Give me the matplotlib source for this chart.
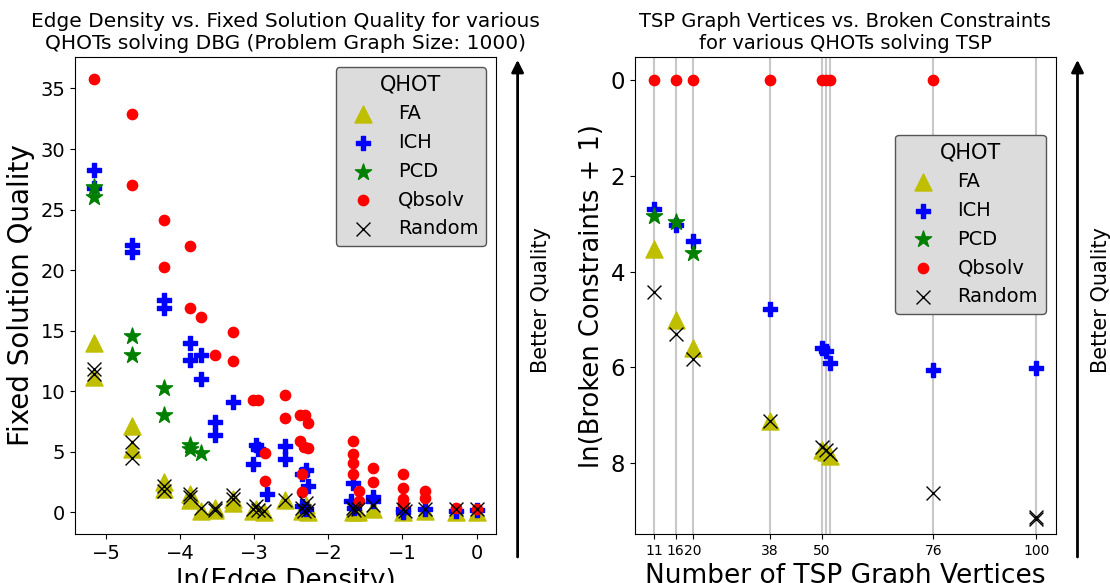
import matplotlib
matplotlib.use("agg")
import matplotlib.pyplot as plt

# ---- left plot: ln(edge density) vs fixed solution quality ----
fa_x = [-5.16, -5.16, -4.65, -4.65, -4.22, -4.22, -3.87, -3.87, -3.72, -3.53, -3.53, -3.28, -3.28,
        -3.02, -2.97, -2.87, -2.59, -2.35, -2.30, -2.27, -1.67, -1.60, -1.40, -0.99, -0.70, -0.28, 0.0]
fa_y = [14.0, 11.2, 7.1, 5.2, 2.5, 1.9, 1.5, 1.0, 0.1, 0.2, 0.4, 1.1, 0.8,
        0.1, 0.3, 0.0, 1.0, 0.1, 0.6, 0.0, 0.0, 0.0, 0.3, 0.0, 0.1, 0.0, 0.0]

ich_x = [-5.16, -5.16, -4.65, -4.65, -4.22, -4.22, -3.87, -3.87, -3.72, -3.72, -3.53, -3.53, -3.28,
         -3.02, -2.97, -2.95, -2.83, -2.59, -2.59, -2.35, -2.30, -2.27, -2.35, -2.30, -1.67, -1.70,
         -1.65, -1.40, -1.40, -0.99, -0.99, -0.70, -0.28, 0.0]
ich_y = [28.3, 26.8, 22.1, 21.5, 17.5, 16.9, 14.0, 12.6, 13.0, 11.0, 7.5, 6.4, 9.1,
         4.0, 5.6, 5.2, 1.5, 5.5, 4.4, 3.2, 3.5, 2.2, 0.5, 0.3, 2.4, 0.9,
         0.4, 1.3, 0.9, 0.3, 0.0, 0.3, 0.1, 0.2]

pcd_x = [-5.16, -5.16, -4.65, -4.65, -4.22, -4.22, -3.87, -3.87, -3.72]
pcd_y = [26.9, 26.0, 14.6, 13.0, 10.3, 8.0, 5.6, 5.2, 4.9]

qb_x = [-5.16, -4.65, -4.65, -4.22, -4.22, -3.87, -3.87, -3.72, -3.53, -3.28, -3.28, -3.02, -2.95,
        -2.85, -2.85, -2.59, -2.59, -2.38, -2.32, -2.28, -2.38, -2.33, -2.28, -2.35, -2.35,
        -1.67, -1.67, -1.67, -1.67, -1.59, -1.59, -1.40, -1.40, -0.99, -0.99, -0.99, -0.99,
        -0.70, -0.70, -0.28, 0.0]
qb_y = [35.8, 32.9, 27.0, 24.1, 20.3, 22.0, 16.9, 16.1, 13.0, 14.9, 12.5, 9.3, 9.3,
        4.9, 2.6, 9.7, 7.8, 8.0, 8.0, 7.4, 5.9, 5.4, 5.3, 3.2, 1.7,
        5.9, 4.8, 4.1, 3.2, 1.75, 0.9, 3.7, 2.5, 3.2, 2.05, 1.1, 0.7,
        1.8, 1.2, 0.4, 0.3]

rnd_x = [-5.16, -5.16, -4.65, -4.65, -4.22, -4.22, -3.87, -3.87, -3.72, -3.53, -3.53, -3.28, -3.28,
         -3.02, -2.97, -2.95, -2.87, -2.59, -2.35, -2.33, -2.30, -2.27, -1.67, -1.65, -1.60,
         -1.40, -0.99, -0.97, -0.70, -0.28, 0.0]
rnd_y = [11.8, 11.4, 5.8, 4.5, 2.2, 1.8, 1.5, 1.3, 0.4, 0.2, 0.4, 1.4, 1.1,
         0.3, 0.5, 0.2, 0.1, 1.0, 0.4, 0.1, 0.8, 0.2, 0.4, 0.2, 0.3,
         0.6, 0.3, 0.1, 0.3, 0.3, 0.3]

# ---- right plot: TSP vertices vs ln(broken constraints + 1) ----
vertices = [11, 16, 20, 38, 50, 51, 52, 76, 100]
vertex_ticks = [11, 16, 20, 38, 50, 76, 100]

tsp_qb_x = [11, 16, 20, 38, 50, 51, 52, 76]
tsp_qb_y = [0, 0, 0, 0, 0, 0, 0, 0]
tsp_ich_x = [11, 16, 20, 38, 50, 51, 52, 76, 100]
tsp_ich_y = [2.70, 3.03, 3.35, 4.79, 5.60, 5.65, 5.90, 6.05, 6.02]
tsp_pcd_x = [11, 16, 20]
tsp_pcd_y = [2.83, 2.96, 3.61]
tsp_fa_x = [11, 16, 20, 38, 50, 51, 52]
tsp_fa_y = [3.52, 5.02, 5.60, 7.11, 7.72, 7.76, 7.84]
tsp_rnd_x = [11, 16, 20, 38, 50, 51, 52, 76, 100, 100]
tsp_rnd_y = [4.43, 5.31, 5.82, 7.11, 7.66, 7.72, 7.80, 8.63, 9.13, 9.17]

styles = {
    "FA": dict(marker="^", color="y", s=150),
    "ICH": dict(marker="P", color="b", s=100),
    "PCD": dict(marker="*", color="g", s=150),
    "Qbsolv": dict(marker="o", color="r", s=55),
    "Random": dict(marker="x", color="k", s=100, linewidths=1),
}

fig = plt.figure(figsize=(11.1, 5.83), dpi=100)
ax1 = fig.add_axes([0.0676, 0.084, 0.379, 0.818])
ax2 = fig.add_axes([0.572, 0.084, 0.379, 0.818])

left_data = {"FA": (fa_x, fa_y), "ICH": (ich_x, ich_y), "PCD": (pcd_x, pcd_y),
             "Qbsolv": (qb_x, qb_y), "Random": (rnd_x, rnd_y)}
right_data = {"FA": (tsp_fa_x, tsp_fa_y), "ICH": (tsp_ich_x, tsp_ich_y), "PCD": (tsp_pcd_x, tsp_pcd_y),
              "Qbsolv": (tsp_qb_x, tsp_qb_y), "Random": (tsp_rnd_x, tsp_rnd_y)}

for name, (x, y) in left_data.items():
    ax1.scatter(x, y, label=name, zorder=3, **styles[name])

for v in vertices:
    ax2.axvline(v, color="#c8c8c8", lw=1.5, zorder=1)
for name, (x, y) in right_data.items():
    ax2.scatter(x, y, label=name, zorder=3, **styles[name])

ax1.set_title("Edge Density vs. Fixed Solution Quality for various\n"
              "QHOTs solving DBG (Problem Graph Size: 1000)", fontsize=14.5)
ax1.set_xlabel("ln(Edge Density)", fontsize=19)
ax1.set_ylabel("Fixed Solution Quality", fontsize=20)
ax1.tick_params(labelsize=14)

ax2.set_title("TSP Graph Vertices vs. Broken Constraints\n"
              "for various QHOTs solving TSP", fontsize=14)
ax2.set_xlabel("Number of TSP Graph Vertices", fontsize=19)
ax2.set_ylabel("ln(Broken Constraints + 1)", fontsize=18.5)
ax2.set_xticks(vertex_ticks)
ax2.tick_params(axis="x", labelsize=10)
ax2.tick_params(axis="y", labelsize=16.5)
ax2.set_ylim(9.48, -0.48)

leg_kw = dict(title="QHOT", fontsize=14, title_fontsize=15, facecolor="#dcdcdc",
              edgecolor="#555555", framealpha=1)
ax1.legend(loc="upper right", **leg_kw)
ax2.legend(loc="upper right", bbox_to_anchor=(1, 0.858), **leg_kw)

# "better quality" arrows outside each plot
for ax in (ax1, ax2):
    ax.annotate("", xy=(1.052, 1.0), xytext=(1.052, -0.054), xycoords="axes fraction",
                arrowprops=dict(arrowstyle="-|>", color="k", lw=2, mutation_scale=18),
                annotation_clip=False)
    ax.text(1.108, 0.49, "Better Quality", transform=ax.transAxes, rotation=90,
            ha="center", va="center", fontsize=15)

plt.savefig("out.png")
